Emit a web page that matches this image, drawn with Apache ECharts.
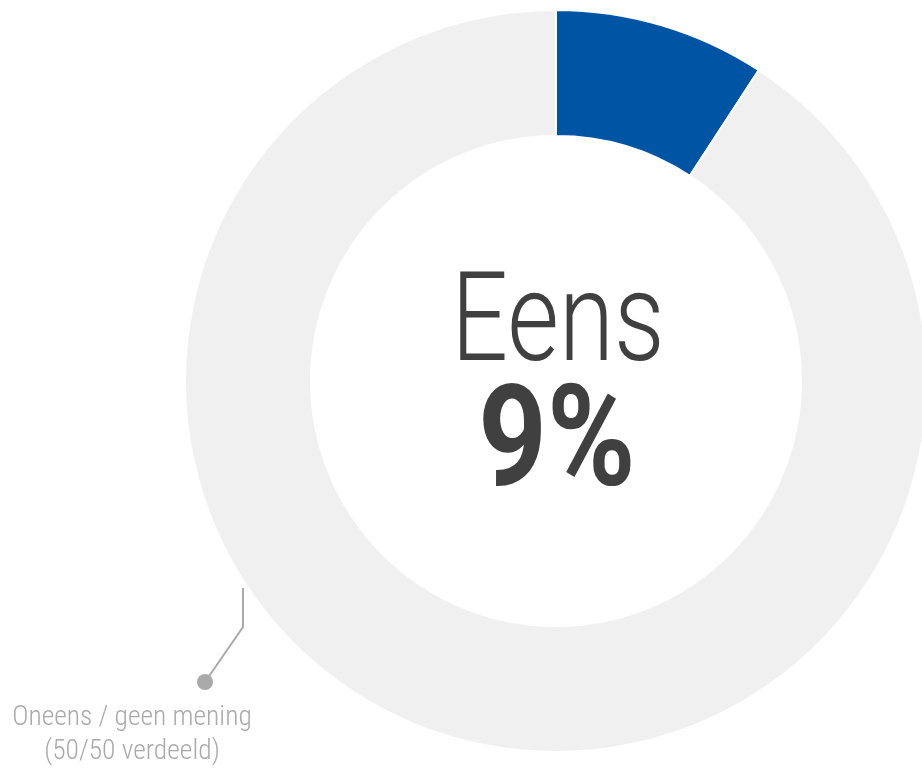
<!DOCTYPE html>
<html>
<head>
<meta charset="utf-8">
<script src="https://cdn.jsdelivr.net/npm/echarts@6/dist/echarts.min.js"></script>
<style>
html,body{margin:0;padding:0;background:#fff;}
#chart{width:922px;height:769px;}
</style>
</head>
<body>
<div id="chart"></div>
<script>
const categories = ['Eens', 'Oneens / geen mening\n(50/50 verdeeld)'];
const values = [9.2, 90.8];
const colors = ['#0054A4', '#F0F0F0'];

const chart = echarts.init(document.getElementById('chart'), null, {renderer: 'canvas'});
const pieData = categories.map((c, i) => ({
  name: c,
  value: values[i],
  itemStyle: {color: colors[i]},
  label: {show: i === 1},
  labelLine: {show: i === 1}
}));

const option = {
  backgroundColor: '#ffffff',
  animation: false,
  series: [{
    type: 'pie',
    center: [556, 381],
    radius: [245, 371],
    startAngle: 90,
    clockwise: true,
    silent: true,
    itemStyle: {borderColor: '#ffffff', borderWidth: 2},
    label: {
      position: 'outside',
      formatter: '{b}',
      color: '#AAAAAA',
      fontSize: 27.5,
      lineHeight: 34,
      fontFamily: '"Roboto Condensed","Liberation Sans Narrow","DejaVu Sans Condensed",Roboto,sans-serif',
      fontWeight: 300,
      align: 'center'
    },
    labelLine: {lineStyle: {color: '#AAAAAA', width: 2}},
    labelLayout: function (p) {
      return {
        x: 132, y: 735, align: 'center', verticalAlign: 'middle',
        labelLinePoints: [[243, 588], [243, 627], [205, 682]]
      };
    },
    data: pieData
  }],
  graphic: [
    {type: 'circle', shape: {cx: 205, cy: 682, r: 8}, style: {fill: '#AAAAAA'}, silent: true},
    {type: 'group', x: 558, y: 329, scaleX: 0.80, children: [
      {type: 'text', style: {text: categories[0], x: 0, y: 0, align: 'center', verticalAlign: 'middle',
        fontSize: 125, fontWeight: 300, fontFamily: 'Roboto, sans-serif', fill: '#404040'}}
    ]},
    {type: 'group', x: 557, y: 450, scaleX: 0.85, children: [
      {type: 'text', style: {text: Math.round(values[0]) + '%', x: 0, y: 0, align: 'center', verticalAlign: 'middle',
        fontSize: 141, fontWeight: 'bold', fontFamily: 'Roboto, sans-serif', fill: '#404040'}}
    ]}
  ]
};
chart.setOption(option);
</script>
</body>
</html>
